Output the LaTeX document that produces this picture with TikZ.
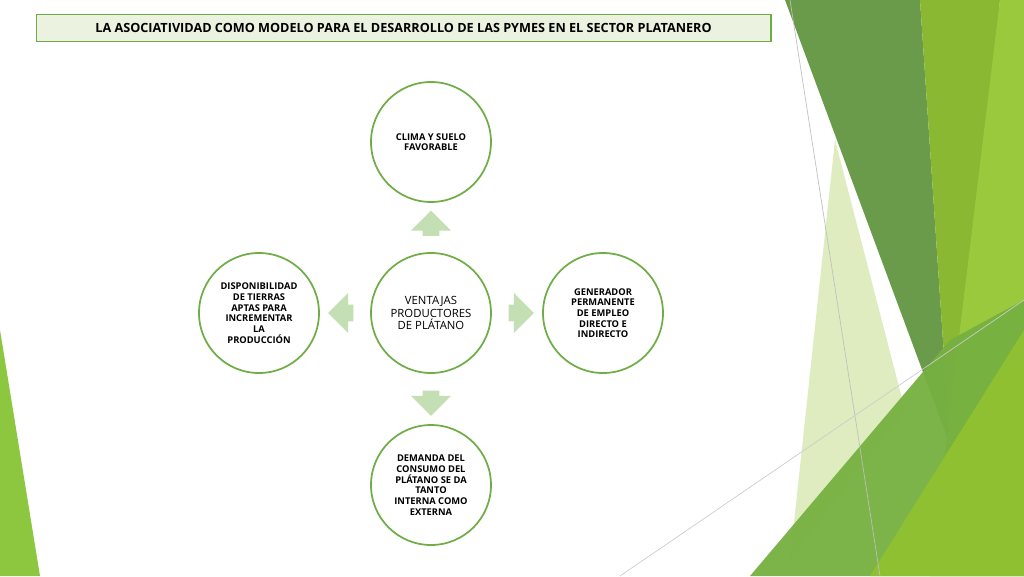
\documentclass[tikz,border=0pt]{standalone}
\usepackage{fontspec}
\setmainfont{Open Sans}
\usetikzlibrary{shapes.arrows,calc}
\definecolor{leafline}{HTML}{70AD47}
\definecolor{arrowfill}{HTML}{C5DFB4}
\definecolor{titlefill}{HTML}{EBF3E0}
\tikzset{
  bubble/.style={circle, draw=leafline, line width=1.3pt, minimum size=90pt, inner sep=0pt,
    align=center, font=\fontsize{7}{8}\selectfont\bfseries},
  blockarrow/.style={single arrow, fill=arrowfill, draw=none, minimum width=30pt,
    single arrow head extend=3pt, minimum height=19pt, inner sep=2pt}
}
\begin{document}
\begin{tikzpicture}[x=0.75pt,y=-0.75pt]
\useasboundingbox (0,0) rectangle (1024,576);
\fill[white] (0,0) rectangle (1024,576);

% background bands
\fill[fill={rgb,255:red,106;green,155;blue,74}] (785,0) -- (920,0) -- (950,445) -- cycle;
\fill[fill={rgb,255:red,138;green,184;blue,51}] (920,0) -- (1000,0) -- (960,430) -- (950,445) -- cycle;
\fill[fill={rgb,255:red,155;green,201;blue,62}] (1000,0) -- (1024,0) -- (1024,576) -- (930,576) -- cycle;
\fill[fill={rgb,255:red,214;green,232;blue,176}, opacity=0.8] (835,140) -- (905,410) -- (790,560) -- cycle;
\fill[fill={rgb,255:red,118;green,176;blue,65}, opacity=0.95] (750,576) -- (950,340) -- (1024,300) -- (1024,576) -- cycle;
\fill[fill={rgb,255:red,143;green,192;blue,49}] (870,576) -- (1024,330) -- (1024,576) -- cycle;
\fill[fill={rgb,255:red,141;green,198;blue,63}] (0,330) -- (40,576) -- (0,576) -- cycle;
\draw[gray!50, line width=0.5pt] (790,0) -- (880,576);
\draw[gray!40, line width=0.5pt] (620,576) -- (1024,300);

% title
\node[draw=leafline, fill=titlefill, line width=1pt, minimum width=551pt, minimum height=20pt,
  font=\fontsize{9.5}{11}\selectfont\bfseries] (title) at (403.5,28)
  {LA ASOCIATIVIDAD COMO MODELO PARA EL DESARROLLO DE LAS PYMES EN EL SECTOR PLATANERO};

% circles
\node[bubble, font=\fontsize{8.5}{9.5}\selectfont] (centro) at (431,313) {VENTAJAS\\PRODUCTORES\\DE PLÁTANO};
\node[bubble] (clima) at (431,142) {CLIMA Y SUELO\\FAVORABLE};
\node[bubble] (empleo) at (603,313) {GENERADOR\\PERMANENTE\\DE EMPLEO\\DIRECTO E\\INDIRECTO};
\node[bubble] (demanda) at (431,485) {DEMANDA DEL\\CONSUMO DEL\\PLÁTANO SE DA\\TANTO\\INTERNA COMO\\EXTERNA};
\node[bubble] (tierras) at (259,313) {DISPONIBILIDAD\\DE TIERRAS\\APTAS PARA\\INCREMENTAR\\LA\\PRODUCCIÓN};

% arrows
\node[blockarrow, rotate=90] (aup) at ($(centro)!0.5!(clima)$) {};
\node[blockarrow] (aright) at ($(centro)!0.5!(empleo)$) {};
\node[blockarrow, rotate=-90] (adown) at ($(centro)!0.5!(demanda)$) {};
\node[blockarrow, rotate=180] (aleft) at ($(centro)!0.5!(tierras)$) {};
\end{tikzpicture}
\end{document}
